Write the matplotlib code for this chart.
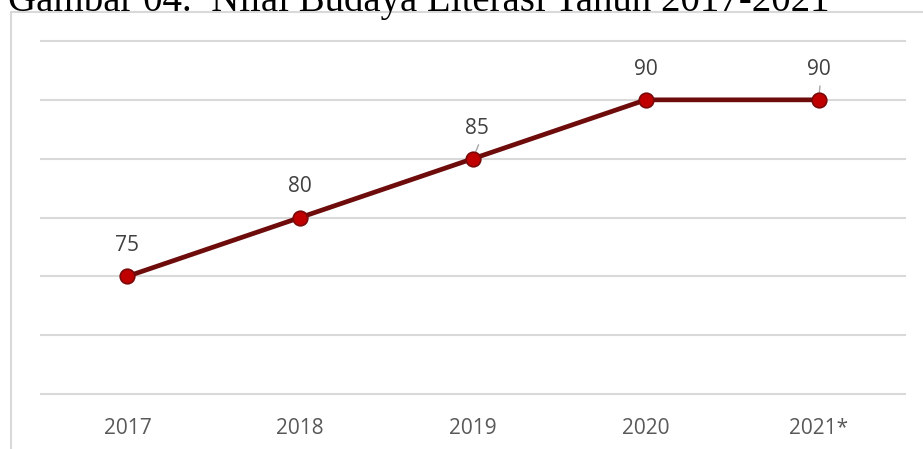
import matplotlib
matplotlib.use("Agg")
import matplotlib.pyplot as plt
from matplotlib.patches import Rectangle

years = ["2017", "2018", "2019", "2020", "2021*"]
values = [75, 80, 85, 90, 90]
grid_levels = [65, 70, 75, 80, 85, 90, 95]
title = "Gambar 04.  Nilai Budaya Literasi Tahun 2017-2021"

W, H = 923, 449
fig = plt.figure(figsize=(W / 100, H / 100), dpi=100)
fig.patch.set_facecolor("white")

# outer chart frame (clipped at right/bottom in the source)
fig.patches.append(Rectangle((11 / W, -0.05), 1.1, 1 - 12 / H + 0.05,
                             transform=fig.transFigure, fill=False,
                             edgecolor="#D9D9D9", linewidth=1.5))

# clipped caption at top
fig.text(8 / W, 1 - 11 / H, title, family="Liberation Serif", fontsize=28,
         color="black", va="baseline", ha="left")

ax = fig.add_axes([41 / W, 1 - 394 / H, 864 / W, 353 / H])
x = list(range(len(years)))
ax.set_xlim(-0.5, len(years) - 0.5)
ax.set_ylim(65, 95)

for g in grid_levels:
    ax.axhline(g, color="#D9D9D9", lw=1.5, zorder=1, clip_on=False)

ax.plot(x, values, color="#6E0C0C", lw=3.4, zorder=3, solid_capstyle="butt")
ax.plot(x, values, ls="none", marker="o", ms=10.5, mfc="#C00000",
        mec="#7A0A0A", mew=1.2, zorder=4)

# data labels (offsets in points); some have leader lines
offsets = [(0, 22), (0, 22), (3, 22), (0, 22), (0, 22)]
leaders = [False, False, True, False, True]
for xi, v, (dx, dy), ld in zip(x, values, offsets, leaders):
    ax.annotate(str(v), (xi, v), xytext=(dx, dy), textcoords="offset points",
                ha="center", va="center", fontsize=15, color="#404040",
                family="Open Sans", zorder=5)
    if ld:
        ax.annotate("", (xi, v), xytext=(dx + 1, 10), textcoords="offset points",
                    arrowprops=dict(arrowstyle="-", color="#A6A6A6", lw=1,
                                    shrinkA=0, shrinkB=4), zorder=2)

ax.set_xticks(x)
ax.set_xticklabels(years, fontsize=15, color="#595959", family="Open Sans")
ax.tick_params(axis="x", length=0, pad=17)
ax.set_yticks([])
for s in ax.spines.values():
    s.set_visible(False)
ax.patch.set_alpha(0)

fig.savefig("out.png", dpi=100)
